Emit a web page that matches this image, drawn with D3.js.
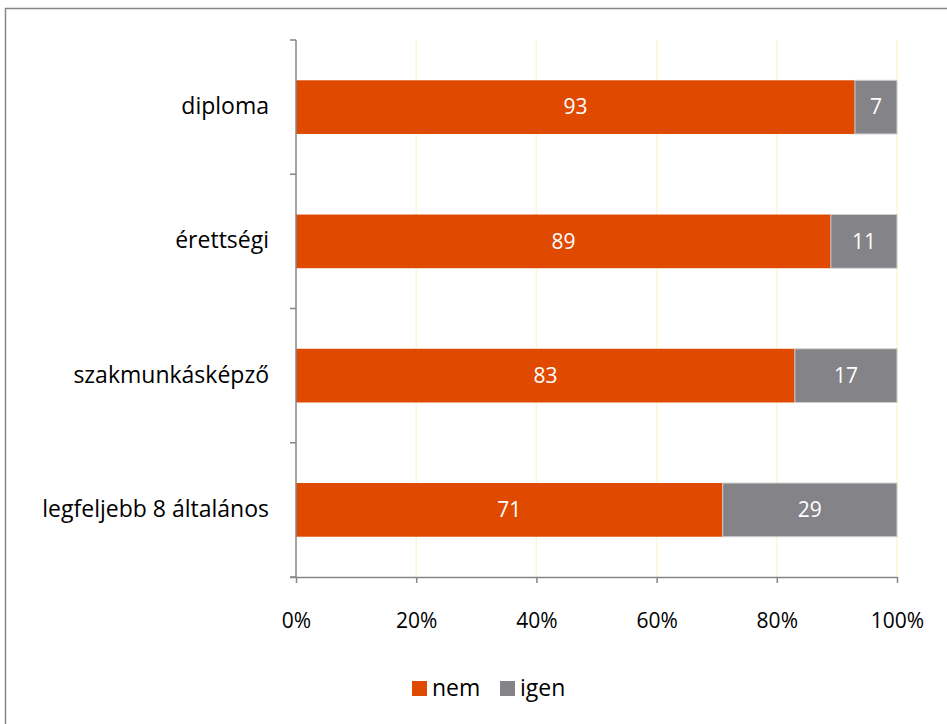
<!DOCTYPE html>
<html><head><meta charset="utf-8">
<script src="https://cdn.jsdelivr.net/npm/d3@7"></script>
<style>body{margin:0;background:#fff}svg{display:block;font-family:"Open Sans","Noto Sans",sans-serif}</style>
</head><body><svg id="c" width="947" height="724"></svg>
<script>
const categories = ["diploma", "érettségi", "szakmunkásképző", "legfeljebb 8 általános"];
const nemValues = [93, 89, 83, 71];
const igenValues = [7, 11, 17, 29];
const seriesNames = ["nem", "igen"];
const seriesColors = ["#E04A00", "#848388"];
const tickValues = [0, 20, 40, 60, 80, 100];

const svg = d3.select("#c");
// frame
svg.append("rect").attr("x", 5.5).attr("y", 8.5).attr("width", 960).attr("height", 730)
  .attr("fill", "none").attr("stroke", "#868686").attr("stroke-width", 1.5);

const x = d3.scaleLinear().domain([0, 100]).range([296, 897]);
const y = d3.scaleBand().domain(categories).range([40, 577]).padding(0);

// gridlines
svg.append("g").selectAll("line").data(tickValues.slice(1)).join("line")
  .attr("x1", d => x(d)).attr("x2", d => x(d)).attr("y1", 40).attr("y2", 577)
  .attr("stroke", "#FFF6D0").attr("stroke-width", 1.5);

const rows = categories.map((c, i) => ({c, v: [nemValues[i], igenValues[i]]}));
const bh = y.bandwidth() * 0.4;
rows.forEach(r => {
  let acc = 0;
  r.v.forEach((v, k) => {
    const y0 = y(r.c) + y.bandwidth() / 2 - bh / 2;
    svg.append("rect").attr("x", x(acc)).attr("y", y0).attr("width", x(acc + v) - x(acc)).attr("height", bh)
      .attr("fill", seriesColors[k]).attr("stroke", k ? "#cfcfcf" : "none").attr("stroke-width", 1);
    svg.append("text").attr("x", (x(acc) + x(acc + v)) / 2).attr("y", y0 + bh / 2)
      .attr("dy", "0.35em").attr("text-anchor", "middle").attr("fill", "#fff")
      .attr("font-size", 21).text(v);
    acc += v;
  });
});

// y axis
const yAxis = svg.append("g").attr("transform", "translate(296,0)");
yAxis.append("line").attr("x1", 0).attr("x2", 0).attr("y1", 40).attr("y2", 577).attr("stroke", "#868686").attr("stroke-width", 1.5);
const yTicks = [40].concat(categories.map(c => y(c) + y.bandwidth()));
yAxis.selectAll(".t").data(yTicks).join("line").attr("x1", -6).attr("x2", 0)
  .attr("y1", d => d).attr("y2", d => d).attr("stroke", "#868686").attr("stroke-width", 1.5);
svg.append("g").selectAll("text").data(categories).join("text")
  .attr("x", 269).attr("y", d => y(d) + y.bandwidth() / 2).attr("dy", "0.3em")
  .attr("text-anchor", "end").attr("font-size", 23).attr("fill", "#000").text(d => d);

// x axis
const xAxis = d3.axisBottom(x).tickValues(tickValues).tickSize(6).tickFormat(d => d + "%");
const gx = svg.append("g").attr("transform", "translate(0,577)").call(xAxis);
gx.select(".domain").attr("stroke", "#868686").attr("stroke-width", 1.5).attr("d", "M290,0.5H897");
gx.selectAll(".tick line").attr("stroke", "#868686").attr("stroke-width", 1.5);
gx.selectAll(".tick text").attr("font-size", 21).attr("fill", "#000").attr("y", 51).attr("dy", "0").attr("font-family", "\"Open Sans\",sans-serif");

// legend
const lg = svg.append("g");
const legX = [412, 500];
seriesNames.forEach((n, i) => {
  lg.append("rect").attr("x", legX[i]).attr("y", 681).attr("width", 15).attr("height", 15).attr("fill", seriesColors[i]);
  lg.append("text").attr("x", legX[i] + 20).attr("y", 696).attr("font-size", 23).attr("fill", "#000").text(n);
});
</script></body></html>
